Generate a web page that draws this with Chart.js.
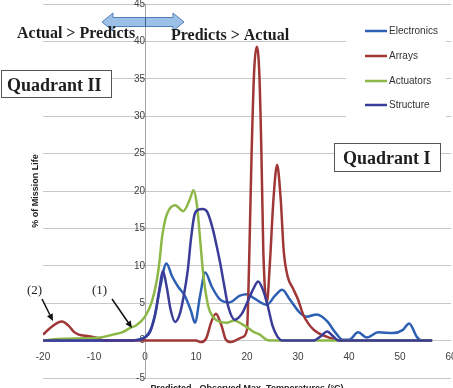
<!DOCTYPE html>
<html><head><meta charset="utf-8">
<style>html,body{margin:0;padding:0;background:#fff;overflow:hidden}canvas{display:block}</style>
<script src="https://cdn.jsdelivr.net/npm/chart.js@4/dist/chart.umd.min.js"></script>
</head><body>
<canvas id="c" width="453" height="388"></canvas>
<script>
// ---- data ----
const seriesNames = ['Electronics', 'Arrays', 'Actuators', 'Structure'];
const seriesColors = ['#2D5FB2', '#A03737', '#8DB747', '#3B3C98'];

const xTicks = [-20, -10, 0, 10, 20, 30, 40, 50, 60];
const yTicks = [-5, 0, 5, 10, 15, 20, 25, 30, 35, 40, 45];

const electronicsX = [-20, -10, -3, -1, 0, 1, 2, 3, 4.2, 5.3, 6.5, 7.8, 9.0, 9.8, 10.8, 11.8, 13.1, 14.7, 16.5, 18.6, 20, 21.5, 23.9, 25.5, 26.9, 28.4, 30.4, 31.7, 33.7, 35.7, 37.3, 38.8, 40, 41.8, 43.5, 45.7, 48.6, 50.5, 51.8, 53.3, 54.3, 56.3];
const electronicsY = [0, 0, 0, 0.2, 0.5, 1.3, 3.6, 7.2, 10.3, 8.6, 7.2, 6.0, 4.0, 2.4, 6.0, 9.1, 7.2, 5.5, 5.1, 6.0, 6.2, 5.6, 4.8, 6.0, 6.8, 5.5, 3.7, 3.2, 3.5, 2.6, 1.1, 0.1, 0.1, 1.1, 0.4, 1.1, 1.0, 1.4, 2.3, 0.5, 0, 0];

const arraysX = [-20, -18.6, -16.3, -15, -14, -13, -11, -9.5, -8, 10, 11, 12, 13, 13.9, 15, 15.8, 16.8, 18, 19.2, 20, 20.4, 20.9, 21.4, 21.9, 22.4, 22.8, 23.2, 23.9, 24.5, 25.2, 25.9, 26.6, 27.2, 28, 29, 30, 31, 32, 33, 34, 35.7, 37, 38, 56.3];
const arraysY = [0.8, 1.7, 2.55, 2.0, 1.2, 0.8, 0.6, 0.4, 0, 0, -0.2, 0.3, 2.5, 3.6, 2.0, 0.2, -0.2, 0.1, 0.5, 1.5, 10, 25, 36, 39.3, 36, 26, 12, 5.1, 10.5, 19, 23.5, 19, 12, 8.5, 7.0, 5.5, 3.5, 2.3, 1.5, 1.0, 0.5, 0.2, 0, 0];

const actuatorsX = [-20, -17, -12, -8.8, -6.3, -4.5, -2.9, -1.6, 0, 1.3, 2.3, 2.9, 3.3, 4.2, 5.9, 7.5, 8.8, 9.5, 10.2, 10.8, 11.4, 12.4, 13.3, 14.7, 16.0, 17.5, 19.0, 20.2, 21.2, 22.5, 23.9, 25, 56.3];
const actuatorsY = [0, 0.2, 0.3, 0.4, 0.8, 1.1, 1.7, 2.1, 3.2, 5.1, 8.0, 10.9, 13.6, 16.7, 18.1, 17.3, 18.9, 20.1, 18.0, 13.6, 9.0, 4.6, 3.2, 2.5, 2.4, 2.7, 2.2, 1.7, 1.2, 0.8, 0.1, 0, 0];

const structureX = [-20, -3, -1, 0, 1, 2, 2.8, 3.5, 4.3, 5.0, 5.9, 6.8, 7.6, 8.4, 9.0, 9.7, 10.5, 11.3, 12.2, 13.3, 14.0, 14.7, 15.5, 16.3, 17.6, 19, 20.3, 21.3, 22.2, 23.0, 23.9, 25, 26, 27, 33, 34.5, 35.7, 37, 38, 56.3];
const structureY = [0, 0, 0.1, 0.4, 1.2, 3.5, 6.8, 9.3, 7.0, 4.2, 2.5, 3.5, 6.0, 9.5, 13.5, 16.8, 17.5, 17.6, 17.2, 14.9, 12.8, 10.5, 7.5, 4.6, 2.8, 3.6, 5.5, 7.0, 7.9, 7.0, 5.1, 2.0, 0.5, 0, 0, 0.6, 1.2, 0.5, 0, 0];

// ---- chart ----
const pts = (xs, ys) => xs.map((x, i) => ({x: x, y: ys[i]}));
const seriesData = [pts(electronicsX, electronicsY), pts(arraysX, arraysY), pts(actuatorsX, actuatorsY), pts(structureX, structureY)];

const SANS = '"Liberation Sans", Arial, sans-serif';
const SERIF = '"Liberation Serif", "Times New Roman", serif';

function arrow(ctx, x1, y1, x2, y2) {
  const a = Math.atan2(y2 - y1, x2 - x1), L = 7, W = 3.2;
  const bx = x2 - L * Math.cos(a), by = y2 - L * Math.sin(a);
  ctx.beginPath(); ctx.moveTo(x1, y1); ctx.lineTo(bx, by); ctx.stroke();
  ctx.beginPath(); ctx.moveTo(x2, y2);
  ctx.lineTo(bx + W * Math.sin(a), by - W * Math.cos(a));
  ctx.lineTo(bx - W * Math.sin(a), by + W * Math.cos(a));
  ctx.closePath(); ctx.fill();
}

const annotations = {
  id: 'annotations',
  afterDraw(chart) {
    const ctx = chart.ctx;
    const ax = Math.round(chart.scales.x.getPixelForValue(0)) + 0.5;
    ctx.save();
    // double arrow
    ctx.beginPath();
    ctx.moveTo(102, 22); ctx.lineTo(113, 13); ctx.lineTo(113, 17.5); ctx.lineTo(173, 17.5);
    ctx.lineTo(173, 13); ctx.lineTo(184, 22); ctx.lineTo(173, 31); ctx.lineTo(173, 26.5);
    ctx.lineTo(113, 26.5); ctx.lineTo(113, 31); ctx.closePath();
    ctx.fillStyle = '#9CC0E6'; ctx.fill();
    ctx.strokeStyle = '#4F7FB8'; ctx.lineWidth = 1; ctx.stroke();
    ctx.beginPath(); ctx.moveTo(ax, 17.5); ctx.lineTo(ax, 26.5); ctx.strokeStyle = '#3F5F88'; ctx.stroke();

    // headings
    ctx.fillStyle = '#1e1e1e';
    ctx.textBaseline = 'alphabetic'; ctx.textAlign = 'left';
    ctx.font = 'bold 16px ' + SERIF;
    ctx.fillText('Actual > Predicts', 17, 38);
    ctx.fillText('Predicts > Actual', 171, 40);

    // quadrant boxes
    ctx.font = 'bold 18px ' + SERIF;
    ctx.fillStyle = '#fff'; ctx.fillRect(1, 70, 110, 27);
    ctx.strokeStyle = '#555'; ctx.lineWidth = 1; ctx.strokeRect(1.5, 70.5, 110, 27);
    ctx.fillStyle = '#1e1e1e'; ctx.fillText('Quadrant II', 7, 91);
    ctx.fillStyle = '#fff'; ctx.fillRect(334, 143, 106, 28);
    ctx.strokeRect(334.5, 143.5, 106, 28);
    ctx.fillStyle = '#1e1e1e'; ctx.fillText('Quadrant I', 343, 164);

    // (1) (2) with arrows
    ctx.font = '13px ' + SERIF;
    ctx.fillText('(2)', 27, 294);
    ctx.fillText('(1)', 92, 294);
    ctx.strokeStyle = '#111'; ctx.fillStyle = '#111'; ctx.lineWidth = 1.5;
    arrow(ctx, 42, 299, 53, 321);
    arrow(ctx, 112, 299, 132, 328);

    // legend
    ctx.fillStyle = '#fff'; ctx.fillRect(346, 9, 100, 118);
    ctx.font = '10px ' + SANS; ctx.textBaseline = 'middle';
    const ly = [31, 56, 81, 105];
    seriesNames.forEach((n, i) => {
      ctx.beginPath(); ctx.moveTo(365, ly[i]); ctx.lineTo(387, ly[i]);
      ctx.strokeStyle = seriesColors[i]; ctx.lineWidth = 2.5; ctx.stroke();
      ctx.fillStyle = '#333'; ctx.fillText(n, 389, ly[i] + 0.5);
    });
    ctx.restore();
  }
};

new Chart(document.getElementById('c'), {
  type: 'line',
  data: {
    datasets: seriesNames.map((n, i) => ({
      label: n,
      data: seriesData[i],
      borderColor: seriesColors[i],
      backgroundColor: seriesColors[i],
      borderWidth: 2.5,
      pointRadius: 0,
      fill: false,
      cubicInterpolationMode: 'monotone',
      order: 4 - i
    }))
  },
  options: {
    responsive: false,
    animation: false,
    devicePixelRatio: 1,
    layout: {padding: {left: 0, right: 2, top: 4, bottom: 10}},
    plugins: {legend: {display: false}, title: {display: false}, tooltip: {enabled: false}},
    scales: {
      x: {
        type: 'linear', min: -20, max: 60,
        position: {y: 0},
        afterBuildTicks: s => { s.ticks = xTicks.map(v => ({value: v})); },
        afterFit: s => { s.height = 53; s.paddingLeft = 0; s.paddingRight = 0; s.paddingTop = 0; s.paddingBottom = 0; },
        grid: {display: false, drawTicks: false},
        border: {display: false},
        ticks: {padding: 11, color: '#404040', font: {family: SANS, size: 10}, maxRotation: 0, autoSkip: false},
        title: {display: true, text: 'Predicted - Observed Max. Temperatures (°C)', color: '#222',
                font: {family: SANS, size: 9, weight: 'bold'}, padding: {top: 0, bottom: 0}}
      },
      y: {
        type: 'linear', min: -5, max: 45,
        position: {x: 0},
        afterBuildTicks: s => { s.ticks = yTicks.map(v => ({value: v})); },
        afterFit: s => { s.paddingLeft = 0; s.paddingRight = 0; s.paddingTop = 0; s.paddingBottom = 0; },
        grid: {color: '#c8c8cc', lineWidth: 1, drawTicks: false},
        border: {display: true, color: '#a4a4a8', width: 1},
        ticks: {padding: 6, color: '#404040', font: {family: SANS, size: 10}, autoSkip: false}
      },
      yt: {
        type: 'linear', axis: 'y', min: -5, max: 45, position: 'left',
        afterFit: s => { s.width = 43; s.paddingTop = 0; s.paddingBottom = 0; },
        grid: {display: false, drawTicks: false},
        border: {display: false},
        ticks: {display: false},
        title: {display: true, text: '% of Mission Life', color: '#222',
                font: {family: SANS, size: 9, weight: 'bold'}, padding: {top: 30.5, bottom: 0}}
      }
    }
  },
  plugins: [annotations]
});
</script>
</body></html>
